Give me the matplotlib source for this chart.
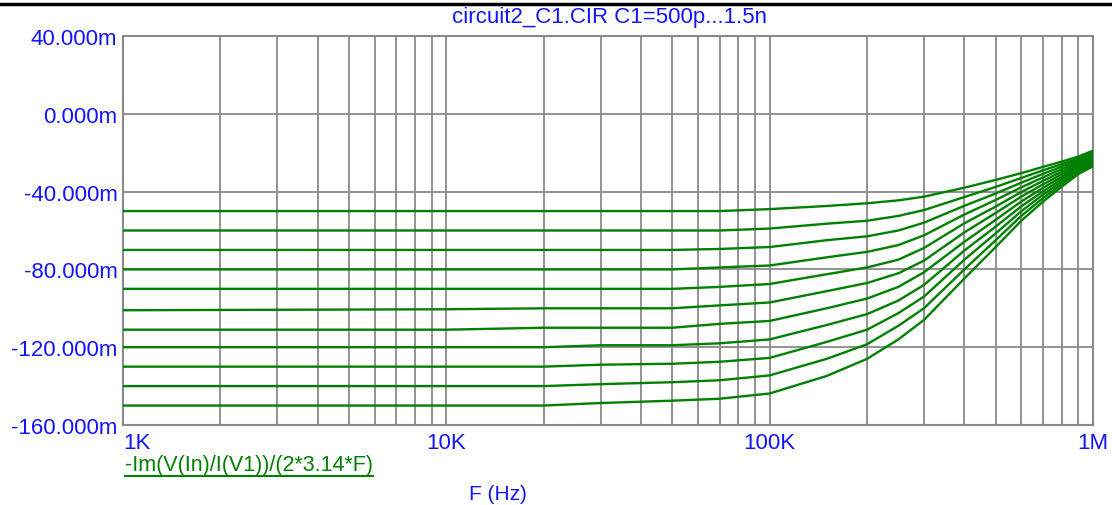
import numpy as np
import matplotlib
matplotlib.use('Agg')
import matplotlib.pyplot as plt
from matplotlib.lines import Line2D
from matplotlib.ticker import LogLocator, NullFormatter

plt.rcParams['font.family'] = ['Liberation Sans', 'DejaVu Sans']

freqs = [1e3, 10e3, 20e3, 30e3, 50e3, 70e3, 100e3, 150e3, 200e3, 250e3,
         300e3, 400e3, 500e3, 600e3, 700e3, 800e3, 900e3, 1e6]

# -Im(V(In)/I(V1))/(2*3.14*F), in milli-units, one list per C1 step
c500p = [-50, -50, -50, -50, -50, -50, -49, -47.4, -46, -44.5, -42.6, -38, -34, -30.5, -27.3, -24.6, -22, -19]
c600p = [-60, -60, -60, -60, -60, -60, -59, -56.5, -55, -52.5, -49.5, -42.8, -37.6, -33, -29.1, -25.9, -23, -20]
c700p = [-70, -70, -70, -70, -70, -69.5, -68.5, -65, -63, -60, -56, -47.3, -41, -35.4, -30.9, -27.2, -23.9, -21]
c800p = [-80, -80, -80, -80, -80, -79, -78, -73.8, -71, -67.5, -62.5, -51.8, -44.3, -37.8, -32.7, -28.5, -24.8, -21.8]
c900p = [-90, -90, -90, -90, -90, -89, -87.5, -82.5, -79, -75, -69, -56.3, -47.7, -40.2, -34.5, -29.8, -25.7, -22.5]
c1n0 = [-101, -100.5, -100, -100, -100, -98.5, -97, -91.2, -87, -82, -75.5, -61, -51, -42.6, -36.3, -31.1, -26.6, -23.3]
c1n1 = [-111, -111, -110, -110, -110, -108, -106.5, -100, -95, -89, -81.5, -65.8, -54.5, -45.1, -38.1, -32.4, -27.5, -24]
c1n2 = [-120, -120, -120, -119, -119, -118, -116, -108.6, -103, -96, -88, -70.3, -58, -47.6, -39.9, -33.7, -28.4, -24.8]
c1n3 = [-130, -130, -130, -129, -128.5, -127.5, -125.5, -117.3, -111, -102.5, -94, -75, -61.5, -50.1, -41.6, -35, -29.3, -25.5]
c1n4 = [-140, -140, -140, -139, -138, -137, -134.5, -126, -118.5, -109, -100, -80, -65, -52.5, -43.4, -36.2, -30.1, -26.2]
c1n5 = [-150, -150, -150, -148.7, -147.5, -146.5, -143.8, -134.8, -126, -116, -106, -84.7, -68.5, -55, -45.2, -37.5, -31, -27]
curves = [c500p, c600p, c700p, c800p, c900p, c1n0, c1n1, c1n2, c1n3, c1n4, c1n5]

y_ticks = [40, 0, -40, -80, -120, -160]
x_ticks = [1e3, 1e4, 1e5, 1e6]
x_labels = ['1K', '10K', '100K', '1M']

title = 'circuit2_C1.CIR C1=500p...1.5n'
expr = '-Im(V(In)/I(V1))/(2*3.14*F)'

W, H = 1112, 506
fig = plt.figure(figsize=(W / 100, H / 100), dpi=100)
ax = fig.add_axes([123 / W, 1 - 426 / H, (1093 - 123) / W, (426 - 37) / H])

grey = '#8a8a8a'
blue = '#1414ff'
green = '#008000'

for vals in curves:
    ax.plot(freqs, vals, color=green, lw=1.7, zorder=3)

ax.set_xscale('log')
ax.set_xlim(1e3, 1e6)
ax.set_ylim(-160, 40)
ax.set_xticks(x_ticks)
ax.set_xticklabels(x_labels)
ax.xaxis.set_minor_locator(LogLocator(base=10, subs=range(2, 10)))
ax.xaxis.set_minor_formatter(NullFormatter())
ax.set_yticks(y_ticks)
ax.set_yticklabels(['{:.3f}m'.format(v) for v in y_ticks])

ax.grid(True, which='both', axis='x', color=grey, lw=1.3)
ax.grid(True, which='major', axis='y', color=grey, lw=1.3)
ax.tick_params(which='both', length=0, labelcolor=blue, labelsize=16)
ax.tick_params(axis='y', pad=4)
ax.tick_params(axis='x', pad=5)
for s in ax.spines.values():
    s.set_color(grey)
    s.set_linewidth(1.5)

xl = ax.get_xticklabels()
xl[0].set_horizontalalignment('left')

fig.add_artist(Line2D([0, 1], [1 - 5 / H] * 2, color='black', lw=2.5,
                      transform=fig.transFigure))
fig.text(609 / W, 1 - 17 / H, title, ha='center', va='center', color=blue, fontsize=16)
fig.text(498 / W, 1 - 495 / H, 'F (Hz)', ha='center', va='center', color=blue, fontsize=15)
t = fig.text(125 / W, 1 - 466 / H, expr, ha='left', va='center', color=green, fontsize=15.5)

fig.canvas.draw()
bb = t.get_window_extent().transformed(fig.transFigure.inverted())
fig.add_artist(Line2D([bb.x0, bb.x1], [1 - 477 / H] * 2, color=green, lw=1.5,
                      transform=fig.transFigure))

fig.savefig('out.png', dpi=100)
